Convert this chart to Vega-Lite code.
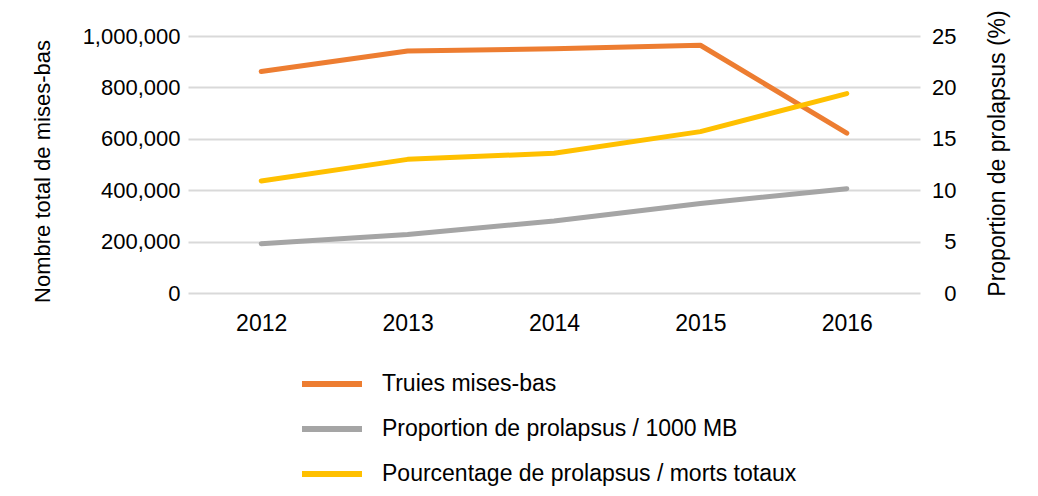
{
  "$schema": "https://vega.github.io/schema/vega-lite/v6.json",
  "width": 732,
  "height": 257,
  "autosize": {"type": "none"},
  "padding": {"left": 188, "top": 36, "right": 118, "bottom": 203},
  "background": "white",
  "config": {
    "font": "Liberation Sans",
    "view": {"stroke": null},
    "axis": {"labelColor": "#000000", "titleColor": "#000000", "titleFontWeight": "normal"},
    "legend": {"labelColor": "#000000"}
  },
  "data": {
    "values": [
      {"annee": "2012", "serie": "Truies mises-bas", "valeur": 862000},
      {"annee": "2013", "serie": "Truies mises-bas", "valeur": 942000},
      {"annee": "2014", "serie": "Truies mises-bas", "valeur": 950000},
      {"annee": "2015", "serie": "Truies mises-bas", "valeur": 964000},
      {"annee": "2016", "serie": "Truies mises-bas", "valeur": 622000},
      {"annee": "2012", "serie": "Proportion de prolapsus / 1000 MB", "valeur": 4.8},
      {"annee": "2013", "serie": "Proportion de prolapsus / 1000 MB", "valeur": 5.7},
      {"annee": "2014", "serie": "Proportion de prolapsus / 1000 MB", "valeur": 7.0},
      {"annee": "2015", "serie": "Proportion de prolapsus / 1000 MB", "valeur": 8.7},
      {"annee": "2016", "serie": "Proportion de prolapsus / 1000 MB", "valeur": 10.15},
      {"annee": "2012", "serie": "Pourcentage de prolapsus / morts totaux", "valeur": 10.9},
      {"annee": "2013", "serie": "Pourcentage de prolapsus / morts totaux", "valeur": 13.0},
      {"annee": "2014", "serie": "Pourcentage de prolapsus / morts totaux", "valeur": 13.6},
      {"annee": "2015", "serie": "Pourcentage de prolapsus / morts totaux", "valeur": 15.7},
      {"annee": "2016", "serie": "Pourcentage de prolapsus / morts totaux", "valeur": 19.4}
    ]
  },
  "encoding": {
    "x": {
      "field": "annee",
      "type": "ordinal",
      "title": null,
      "axis": {"labelAngle": 0, "domain": false, "ticks": false, "labelPadding": 19, "labelFontSize": 23, "grid": false}
    }
  },
  "layer": [
    {
      "transform": [{"filter": "datum.serie === 'Truies mises-bas'"}],
      "mark": {"type": "line", "strokeWidth": 5, "strokeCap": "round", "strokeJoin": "round"},
      "encoding": {
        "y": {
          "field": "valeur",
          "type": "quantitative",
          "scale": {"domain": [0, 1000000]},
          "axis": {
            "title": "Nombre total de mises-bas",
            "values": [0, 200000, 400000, 600000, 800000, 1000000],
            "format": ",.0f",
            "grid": true,
            "gridColor": "#d9d9d9",
            "gridWidth": 2,
            "domain": false,
            "ticks": false,
            "labelPadding": 8,
            "labelFontSize": 22,
            "titleFontSize": 22,
            "titleX": -146,
            "titleY": 135,
            "titleAlign": "center",
            "titleBaseline": "middle"
          }
        },
        "color": {
          "field": "serie",
          "type": "nominal",
          "scale": {
            "domain": ["Truies mises-bas", "Proportion de prolapsus / 1000 MB", "Pourcentage de prolapsus / morts totaux"],
            "range": ["#ED7D31", "#A5A5A5", "#FFC000"]
          },
          "legend": {
            "title": null,
            "orient": "none",
            "legendX": 111,
            "legendY": 315,
            "direction": "vertical",
            "symbolType": "stroke",
            "symbolSize": 3600,
            "symbolStrokeWidth": 6,
            "labelFontSize": 23,
            "labelOffset": 17,
            "rowPadding": -15,
            "labelLimit": 600
          }
        }
      }
    },
    {
      "transform": [{"filter": "datum.serie !== 'Truies mises-bas'"}],
      "mark": {"type": "line", "strokeWidth": 5, "strokeCap": "round", "strokeJoin": "round"},
      "encoding": {
        "y": {
          "field": "valeur",
          "type": "quantitative",
          "scale": {"domain": [0, 25]},
          "axis": {
            "orient": "right",
            "title": "Proportion de prolapsus (%)",
            "values": [0, 5, 10, 15, 20, 25],
            "grid": false,
            "domain": false,
            "ticks": false,
            "labelAlign": "right",
            "labelPadding": 36,
            "labelFontSize": 22,
            "titleFontSize": 23,
            "titleAngle": -90,
            "titleX": 77,
            "titleY": 117,
            "titleAlign": "center",
            "titleBaseline": "middle"
          }
        },
        "color": {
          "field": "serie",
          "type": "nominal",
          "scale": {
            "domain": ["Truies mises-bas", "Proportion de prolapsus / 1000 MB", "Pourcentage de prolapsus / morts totaux"],
            "range": ["#ED7D31", "#A5A5A5", "#FFC000"]
          },
          "legend": {
            "title": null,
            "orient": "none",
            "legendX": 111,
            "legendY": 315,
            "direction": "vertical",
            "symbolType": "stroke",
            "symbolSize": 3600,
            "symbolStrokeWidth": 6,
            "labelFontSize": 23,
            "labelOffset": 17,
            "rowPadding": -15,
            "labelLimit": 600
          }
        }
      }
    }
  ],
  "resolve": {"scale": {"y": "independent"}}
}
